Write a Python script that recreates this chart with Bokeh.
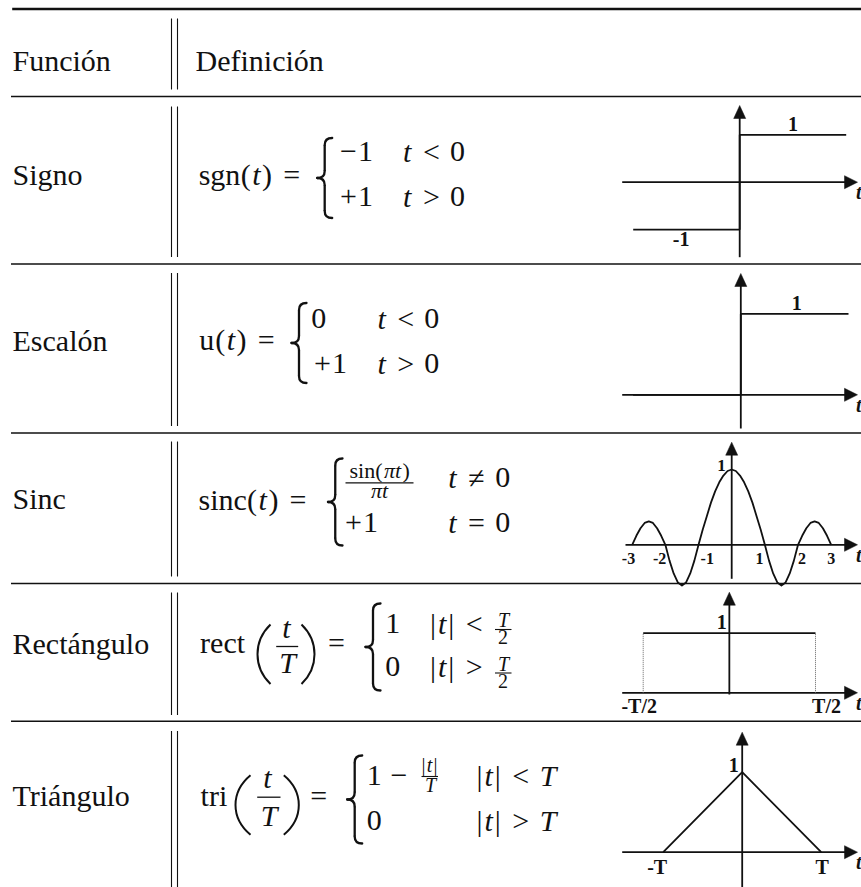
from bokeh.plotting import figure
from bokeh.models import Range1d, ColumnDataSource
from bokeh.core.properties import value
from bokeh.embed import file_html
from bokeh.resources import INLINE

# ---------------- data ----------------
HEADERS = ["Función", "Definición"]
NAMES = ["Signo", "Escalón", "Sinc", "Rectángulo", "Triángulo"]

SGN_T = [-1, 0, 0, 1]
SGN_V = [-1, -1, 1, 1]
STEP_T = [-1, 0, 0, 1]
STEP_V = [0, 0, 1, 1]
SINC_T = [-3, -2.875, -2.75, -2.625, -2.5, -2.375, -2.25, -2.125,
          -2, -1.875, -1.75, -1.625, -1.5, -1.375, -1.25, -1.125,
          -1, -0.875, -0.75, -0.625, -0.5, -0.375, -0.25, -0.125,
          0,
          0.125, 0.25, 0.375, 0.5, 0.625, 0.75, 0.875, 1,
          1.125, 1.25, 1.375, 1.5, 1.625, 1.75, 1.875, 2,
          2.125, 2.25, 2.375, 2.5, 2.625, 2.75, 2.875, 3]
SINC_V = [0, 0.12, 0.22, 0.29, 0.31, 0.29, 0.22, 0.12,
          0, -0.21, -0.38, -0.50, -0.54, -0.50, -0.38, -0.21,
          0, 0.20, 0.38, 0.56, 0.71, 0.83, 0.92, 0.98,
          1,
          0.98, 0.92, 0.83, 0.71, 0.56, 0.38, 0.20, 0,
          -0.21, -0.38, -0.50, -0.54, -0.50, -0.38, -0.21, 0,
          0.12, 0.22, 0.29, 0.31, 0.29, 0.22, 0.12, 0]
SINC_TICKS = [-3, -2, -1, 1, 2, 3]
SINC_TICK_LABELS = ["-3", "-2", "-1", "1", "2", "3"]
RECT_T = [-0.5, 0.5]
RECT_V = [1, 1]
TRI_T = [-1, 0, 1]
TRI_V = [0, 1, 0]
AXIS_NAME = "t"

# ---------------- canvas ----------------
W, H = 861, 887
OX, OY = 0, 0
INK = "#111111"
SERIF = value("Liberation Serif")
BL = 0.34   # rendered text sits this many em below the given y

p = figure(width=W, height=H, x_range=Range1d(OX, OX + W), y_range=Range1d(OY + H, OY),
           output_backend="svg", toolbar_location=None, title=None,
           x_axis_location=None, y_axis_location=None, min_border=0,
           outline_line_color=None, background_fill_color="white",
           border_fill_color="white")
p.grid.visible = False

# ---------------- table rules ----------------
p.segment(x0=[11.7], y0=[8.5], x1=[861], y1=[8.5], line_width=2.6, color=INK)
RULES_Y = [96, 263.5, 432.5, 583, 720.8]
p.segment(x0=[10.5] * 5, y0=RULES_Y, x1=[861] * 5, y1=RULES_Y, line_width=1.6, color=INK)
VSEG = [(18, 89), (106, 256.5), (272.5, 425.5), (441, 576), (592, 714.5), (730.5, 890)]
for xv in (171, 177):
    p.segment(x0=[xv] * len(VSEG), y0=[a for a, b in VSEG], x1=[xv] * len(VSEG),
              y1=[b for a, b in VSEG], line_width=1.1, color=INK)

# ---------------- text helpers ----------------
texts = {}
MS = 30   # main font size


def put(s, x, y, size=MS, style="normal", align="center"):
    d = texts.setdefault((size, style, align), dict(x=[], y=[], text=[]))
    d["x"].append(x)
    d["y"].append(y - BL * size)
    d["text"].append(s)


N, I = "normal", "italic"
F = 28.5


def lay(x0, y, items, f=F, size=MS):
    x = x0
    for s, w, st in items:
        if s:
            put(s, x + w * f / 2, y, size, st)
        x += w * f
    return x


def hbar(x0, x1, y, w=1.3):
    p.segment(x0=[x0], y0=[y], x1=[x1], y1=[y], line_width=w, color=INK)


def brace(xl, xr, yc, h):
    y0, y1 = yc - h / 2, yc + h / 2
    xm = xl + 0.5 * (xr - xl)
    r = 7
    p.quadratic(x0=[xr, xm, xl, xm], y0=[y0, yc - r, yc, y1 - r],
                x1=[xm, xl, xm, xr], y1=[y0 + r, yc, yc + r, y1],
                cx=[xm, xm, xm, xm], cy=[y0, yc, yc, y1],
                line_width=2.3, line_color=INK, line_cap="round")
    p.segment(x0=[xm, xm], y0=[y0 + r, yc + r], x1=[xm, xm], y1=[yc - r, y1 - r],
              line_width=2.3, color=INK)


def paren(xa, xb, y0, y1, left=True):
    h = y1 - y0
    if left:
        xe, xc = xb, (4 * xa - xb) / 3
    else:
        xe, xc = xa, (4 * xb - xa) / 3
    p.bezier(x0=[xe], y0=[y0], x1=[xe], y1=[y1], cx0=[xc], cy0=[y0 + 0.28 * h],
             cx1=[xc], cy1=[y1 - 0.28 * h], line_width=2.0, line_color=INK)


# headers & names
put(HEADERS[0], 12, 70, align="left")
put(HEADERS[1], 195, 70, align="left")
for name, yb in zip(NAMES, [184.5, 350, 508.5, 653.3, 805]):
    put(name, 12, yb, align="left")

SP = ("", 0.278, N)

# --- sgn ---
lay(198.3, 184, [("sgn", 1.45, N), ("(", 0.389, N), ("t", 0.361, I), (")", 0.389, N), SP, ("=", 0.778, N)])
brace(316.7, 331.7, 177.5, 80)
lay(338, 161.5, [("−", 0.7, N), ("1", 0.5, N)])
lay(338, 206, [("+", 0.7, N), ("1", 0.5, N)])
lay(401.6, 161.5, [("t", 0.361, I), SP, ("<", 0.778, N), SP, ("0", 0.5, N)])
lay(401.6, 206, [("t", 0.361, I), SP, (">", 0.778, N), SP, ("0", 0.5, N)])

# --- escalon ---
lay(198.3, 349.5, [("u", 0.556, N), ("(", 0.389, N), ("t", 0.361, I), (")", 0.389, N), SP, ("=", 0.778, N)])
brace(291, 306, 342.5, 80)
lay(311, 328.5, [("0", 0.5, N)])
lay(312, 373, [("+", 0.7, N), ("1", 0.5, N)])
lay(375.9, 328.5, [("t", 0.361, I), SP, ("<", 0.778, N), SP, ("0", 0.5, N)])
lay(375.9, 373, [("t", 0.361, I), SP, (">", 0.778, N), SP, ("0", 0.5, N)])

# --- sinc ---
lay(198.3, 509, [("sinc", 1.672, N), ("(", 0.389, N), ("t", 0.361, I), (")", 0.389, N), SP, ("=", 0.778, N)])
brace(327.5, 342, 501.5, 87)
lay(348.5, 477, [("sin(", 1.55, N), ("πt", 0.86, I), (")", 0.38, N)], f=22, size=22)
hbar(345, 413, 482.3)
put("πt", 379, 497, 22, I)
lay(343, 531.7, [("+", 0.7, N), ("1", 0.5, N)])
lay(446.7, 486.7, [("t", 0.361, I), SP, ("≠", 0.778, N), SP, ("0", 0.5, N)])
lay(446.7, 531.7, [("t", 0.361, I), SP, ("=", 0.778, N), SP, ("0", 0.5, N)])

# --- rect ---
lay(198.3, 652, [("rect", 1.669, N)])
paren(257, 270, 624, 683.5, True)
paren(301, 314, 624, 683.5, False)
put("t", 286, 637, MS, I)
hbar(275.7, 297.7, 646)
put("T", 287, 671.7, MS, I)
put("=", 336, 652)
brace(365, 380, 646.5, 87)
for yb, rel in ((633, "<"), (676.5, ">")):
    lay(385, yb, [("1" if rel == "<" else "0", 0.5, N)])
    lay(428.5, yb, [("|", 0.278, N), ("t", 0.361, I), ("|", 0.278, N), SP, (rel, 0.778, N)])
    bar = yb - 4
    hbar(494.5, 511, bar, 1.1)
    put("T", 503, bar - 2.5, 20, I)
    put("2", 502.5, bar + 14.5, 20, N)

# --- tri ---
lay(198.3, 805, [("tri", 1.059, N)])
paren(235, 250, 774.7, 834.2, True)
paren(283.3, 298.3, 774.7, 834.2, False)
put("t", 267, 787, MS, I)
hbar(256.7, 280, 796.7)
put("T", 268.5, 825, MS, I)
put("=", 318.3, 805)
brace(346.7, 361.7, 799, 88)
lay(366.7, 785, [("1", 0.5, N), ("", 0.222, N), ("−", 0.778, N)])
hbar(421, 437.5, 776, 1.1)
lay(420.5, 771, [("|", 0.278, N), ("t", 0.361, I), ("|", 0.278, N)], f=18.5, size=20)
put("T", 430, 791, 20, I)
lay(366.7, 830, [("0", 0.5, N)])
for yb, rel in ((785, "<"), (830, ">")):
    lay(475, yb, [("|", 0.278, N), ("t", 0.361, I), ("|", 0.278, N), SP, (rel, 0.778, N), SP, ("T", 0.584, I)])

for (size, style, align), d in texts.items():
    p.text(x="x", y="y", text="text", source=ColumnDataSource(d), text_font=SERIF,
           text_font_size=f"{size}px", text_font_style=style, text_align=align,
           text_baseline="alphabetic", text_color=INK)

# ---------------- mini plots ----------------
# name: (t_a, t_b, px_a, px_b, py of v=0, py of v=1, axis left, arrow-top y, axis bottom)
PANELS = {
    "sgn": (-1, 1, 632.7, 845.7, 181.7, 134.3, 621.7, 105, 256.7),
    "esc": (0, 1, 740.3, 848, 394.3, 313.3, 621.7, 273, 428),
    "sinc": (-3, 3, 631.7, 830.7, 544.3, 469, 625, 441.7, 578.3),
    "rect": (-0.5, 0.5, 642.7, 815, 692.3, 632.7, 621.7, 591.7, 694),
    "tri": (-1, 1, 662.7, 820.7, 851.7, 771.7, 621.7, 731.7, 890),
}
xr, yr = {}, {}
for nm, (ta, tb, pa, pb, q0, q1, *_r) in PANELS.items():
    kx = (tb - ta) / (pb - pa)
    xr[nm] = Range1d(ta + (OX - pa) * kx, ta + (OX + W - pa) * kx)
    ky = 1.0 / (q0 - q1)
    yr[nm] = Range1d((q0 - (OY + H)) * ky, (q0 - OY) * ky)
p.extra_x_ranges = xr
p.extra_y_ranges = yr

TIP_X = 857
hx, hy, vx, vy = [], [], [], []
axx0, axy0, axx1, axy1 = [], [], [], []
tlx, tly = [], []
for nm, (ta, tb, pa, pb, q0, q1, left, top, bot) in PANELS.items():
    x0 = pa + (0 - ta) * (pb - pa) / (tb - ta)
    axx0 += [left, x0]
    axy0 += [q0, bot]
    axx1 += [TIP_X - 8, x0]
    axy1 += [q0, top + 8]
    hx.append([TIP_X, TIP_X - 13, TIP_X - 13])
    hy.append([q0, q0 - 6.5, q0 + 6.5])
    vx.append([x0, x0 - 6, x0 + 6])
    vy.append([top, top + 13, top + 13])
    tlx.append(855.5)
    tly.append(q0 + 16.5 - BL * 20)
p.segment(x0=axx0, y0=axy0, x1=axx1, y1=axy1, line_width=1.8, color=INK)
p.patches(xs=hx + vx, ys=hy + vy, color=INK, line_width=0.5)
p.text(x=tlx, y=tly, text=[AXIS_NAME] * len(tlx), text_font=SERIF, text_font_size="20px",
       text_font_style="bold italic", text_align="left", text_baseline="alphabetic",
       text_color=INK)

LW = 1.8
p.line(SGN_T, SGN_V, x_range_name="sgn", y_range_name="sgn", line_width=LW, color=INK)
p.line(STEP_T, STEP_V, x_range_name="esc", y_range_name="esc", line_width=LW, color=INK)
p.line(SINC_T, SINC_V, x_range_name="sinc", y_range_name="sinc", line_width=LW, color=INK,
       line_join="round")
p.line(RECT_T, RECT_V, x_range_name="rect", y_range_name="rect", line_width=LW, color=INK)
p.segment(x0=RECT_T, y0=[0, 0], x1=RECT_T, y1=RECT_V, x_range_name="rect",
          y_range_name="rect", line_width=1.0, line_dash="1 1", color="#666666")
p.line(TRI_T, TRI_V, x_range_name="tri", y_range_name="tri", line_width=LW, color=INK)


def plabel(nm, s, t, v, dx, dy, size=20, align="center"):
    p.text(x=[t], y=[v], text=[s], x_offset=dx, y_offset=dy - BL * size, x_range_name=nm,
           y_range_name=nm, text_font=SERIF, text_font_size=f"{size}px",
           text_font_style="bold", text_align=align, text_baseline="alphabetic",
           text_color=INK)


plabel("sgn", "1", 0.5, 1, 0, -4.5)
plabel("sgn", "-1", -0.55, -1, 0, 16.5)
plabel("esc", "1", 0.52, 1, 0, -4)
p.text(x=SINC_TICKS, y=[0] * len(SINC_TICKS), text=SINC_TICK_LABELS,
       x_offset=[-3.7, -5.8, 8.7, -5.4, 4, 0], y_offset=19 - BL * 16, x_range_name="sinc",
       y_range_name="sinc", text_font=SERIF, text_font_size="16px",
       text_font_style="bold", text_align="center", text_baseline="alphabetic",
       text_color=INK)
plabel("sinc", "1", 0, 1, -6, 2, size=17, align="right")
plabel("rect", "1", 0, 1, -2.5, -4.5, align="right")
plabel("rect", "-T/2", -0.5, 0, -4, 19.5)
plabel("rect", "T/2", 0.5, 0, 11, 19.5)
plabel("tri", "1", 0, 1, -3.5, 0, align="right")
plabel("tri", "-T", -1, 0, -6, 21.5)
plabel("tri", "T", 1, 0, 1, 21.5)

open("out.html", "w").write(file_html(p, INLINE))
